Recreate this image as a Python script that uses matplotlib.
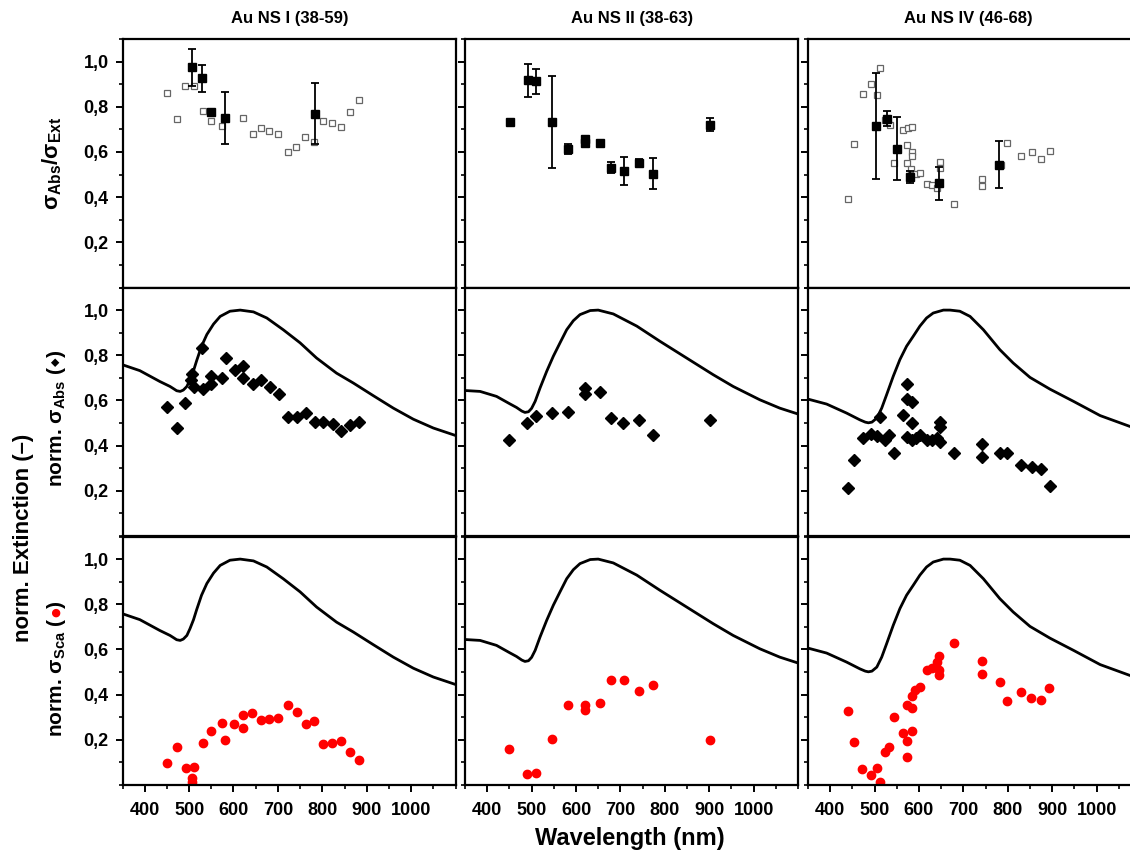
import numpy as np
import matplotlib
matplotlib.use('Agg')
import matplotlib.pyplot as plt
from matplotlib.ticker import MultipleLocator, FixedLocator, FuncFormatter

plt.rcParams['font.family'] = ['Liberation Sans', 'DejaVu Sans']
plt.rcParams['font.weight'] = 'bold'
plt.rcParams['mathtext.fontset'] = 'custom'
plt.rcParams['mathtext.rm'] = 'Liberation Sans:bold'
plt.rcParams['mathtext.it'] = 'Liberation Sans:italic:bold'
plt.rcParams['mathtext.bf'] = 'Liberation Sans:bold'

titles = ['Au NS I (38-59)', 'Au NS II (38-63)', 'Au NS IV (46-68)']

# --- row 1: sigma_Abs / sigma_Ext ---
# open squares (single particles)
ratio_open_wl = [
    [450, 472, 491, 511, 531, 549, 573, 621, 643, 661, 681, 700, 722, 741, 762, 781, 801, 821, 841, 862, 882],
    [],
    [439, 454, 473, 493, 505, 513, 523, 535, 543, 564, 575, 585, 574, 584, 584, 573, 583, 593, 603,
     618, 629, 640, 647, 647, 678, 743, 743, 785, 799, 829, 855, 874, 894],
]
ratio_open_val = [
    [0.862, 0.746, 0.891, 0.891, 0.782, 0.737, 0.715, 0.749, 0.678, 0.708, 0.693, 0.680, 0.600, 0.621,
     0.668, 0.644, 0.739, 0.730, 0.711, 0.775, 0.828],
    [],
    [0.390, 0.636, 0.857, 0.903, 0.851, 0.971, 0.741, 0.721, 0.551, 0.696, 0.705, 0.711, 0.631, 0.599,
     0.584, 0.553, 0.525, 0.504, 0.509, 0.457, 0.454, 0.442, 0.554, 0.528, 0.368, 0.479, 0.449, 0.544,
     0.640, 0.582, 0.602, 0.571, 0.604],
]
# filled squares (averages) with error bars
ratio_mean_wl = [
    [507, 529, 549, 581, 783],
    [451, 491, 510, 545, 583, 621, 621, 654, 679, 707, 742, 774, 902],
    [504, 528, 550, 580, 646, 780],
]
ratio_mean_val = [
    [0.974, 0.927, 0.776, 0.752, 0.769],
    [0.732, 0.917, 0.912, 0.732, 0.611, 0.658, 0.638, 0.640, 0.531, 0.517, 0.553, 0.504, 0.721],
    [0.715, 0.748, 0.615, 0.489, 0.461, 0.544],
]
ratio_mean_err = [
    [0.080, 0.060, 0.012, 0.115, 0.135],
    [0.0, 0.074, 0.054, 0.205, 0.022, 0.010, 0.010, 0.0, 0.025, 0.062, 0.015, 0.070, 0.030],
    [0.236, 0.034, 0.139, 0.026, 0.072, 0.105],
]

# --- normalised extinction spectra ---
ext_wl = [
    [350, 389, 434, 457, 465, 472, 480, 487, 495, 502, 510, 517, 528, 540, 555, 570, 592, 615, 645,
     675, 712, 750, 787, 832, 870, 915, 960, 1005, 1050, 1100],
    [350, 384, 421, 451, 466, 478, 485, 493, 500, 508, 519, 534, 549, 564, 579, 594, 609, 632, 650,
     684, 737, 789, 849, 909, 954, 1014, 1059, 1100],
    [348, 392, 437, 467, 479, 486, 494, 505, 516, 527, 542, 557, 572, 587, 602, 617, 632, 655, 670,
     692, 715, 745, 782, 812, 850, 895, 948, 1008, 1075, 1100],
]
ext_val = [
    [0.758, 0.732, 0.684, 0.662, 0.652, 0.643, 0.640, 0.646, 0.662, 0.692, 0.732, 0.776, 0.840, 0.892,
     0.938, 0.972, 0.995, 1.000, 0.992, 0.965, 0.913, 0.855, 0.788, 0.721, 0.677, 0.621, 0.566, 0.517,
     0.478, 0.445],
    [0.644, 0.640, 0.618, 0.585, 0.569, 0.553, 0.547, 0.550, 0.565, 0.596, 0.655, 0.729, 0.796, 0.855,
     0.913, 0.953, 0.980, 0.998, 1.000, 0.983, 0.929, 0.862, 0.788, 0.714, 0.662, 0.603, 0.566, 0.540],
    [0.607, 0.584, 0.544, 0.514, 0.504, 0.501, 0.504, 0.522, 0.566, 0.625, 0.707, 0.781, 0.840, 0.884,
     0.929, 0.965, 0.987, 1.000, 1.000, 0.995, 0.972, 0.913, 0.825, 0.766, 0.702, 0.650, 0.596, 0.533,
     0.485, 0.476],
]

# --- row 2: normalised sigma_Abs ---
abs_wl = [
    [450, 472, 491, 507, 504, 511, 529, 531, 549, 550, 574, 582, 603, 622, 622, 643, 662, 682, 703,
     722, 742, 763, 783, 802, 823, 842, 863, 883],
    [450, 490, 510, 546, 582, 621, 621, 654, 679, 706, 742, 773, 902],
    [441, 454, 473, 493, 505, 513, 524, 533, 544, 564, 573, 574, 585, 584, 573, 584, 593, 603, 618,
     629, 640, 647, 647, 647, 678, 743, 743, 782, 799, 829, 855, 874, 894],
]
abs_val = [
    [0.571, 0.480, 0.589, 0.718, 0.689, 0.660, 0.832, 0.652, 0.710, 0.673, 0.698, 0.789, 0.736, 0.754,
     0.698, 0.673, 0.689, 0.658, 0.629, 0.528, 0.525, 0.545, 0.506, 0.506, 0.496, 0.466, 0.493, 0.506],
    [0.427, 0.502, 0.532, 0.544, 0.550, 0.653, 0.628, 0.639, 0.523, 0.498, 0.513, 0.446, 0.513],
    [0.214, 0.337, 0.435, 0.453, 0.443, 0.526, 0.426, 0.446, 0.369, 0.534, 0.674, 0.605, 0.593, 0.500,
     0.439, 0.426, 0.432, 0.448, 0.426, 0.427, 0.432, 0.506, 0.482, 0.416, 0.366, 0.408, 0.349, 0.366,
     0.368, 0.315, 0.307, 0.295, 0.220],
]

# --- row 3: normalised sigma_Sca ---
sca_wl = [
    [450, 472, 492, 512, 506, 506, 531, 550, 574, 580, 601, 621, 621, 642, 662, 681, 701, 723, 742,
     763, 781, 801, 822, 842, 863, 883],
    [450, 490, 509, 545, 582, 621, 621, 654, 679, 707, 741, 773, 902],
    [441, 454, 472, 493, 505, 513, 523, 533, 543, 563, 573, 573, 573, 584, 584, 584, 592, 602, 618,
     629, 640, 646, 646, 646, 678, 742, 742, 782, 799, 829, 853, 874, 893],
]
sca_val = [
    [0.096, 0.167, 0.075, 0.081, 0.030, 0.015, 0.186, 0.239, 0.276, 0.198, 0.269, 0.309, 0.253, 0.319,
     0.287, 0.293, 0.296, 0.355, 0.325, 0.272, 0.282, 0.183, 0.188, 0.194, 0.148, 0.109],
    [0.160, 0.047, 0.053, 0.203, 0.353, 0.356, 0.334, 0.361, 0.467, 0.467, 0.415, 0.442, 0.201],
    [0.328, 0.189, 0.070, 0.046, 0.074, 0.012, 0.146, 0.168, 0.300, 0.229, 0.194, 0.123, 0.355, 0.395,
     0.340, 0.241, 0.421, 0.436, 0.510, 0.520, 0.544, 0.573, 0.510, 0.486, 0.630, 0.550, 0.491, 0.454,
     0.372, 0.411, 0.386, 0.378, 0.431],
]

W, H = 1130, 856
fig = plt.figure(figsize=(W / 100, H / 100), dpi=100)

lefts = [122.5, 465, 808]
bottoms = [287.5, 536, 785]
aw, ah = 333, 248.5

comma = FuncFormatter(lambda v, p: f'{v:.1f}'.replace('.', ','))

axes = [[None] * 3 for _ in range(3)]
for r in range(3):
    for c in range(3):
        ax = fig.add_axes([lefts[c] / W, 1 - bottoms[r] / H, aw / W, ah / H])
        axes[r][c] = ax
        ax.set_xlim(350, 1100)
        ax.set_ylim(0, 1.1)
        for s in ax.spines.values():
            s.set_linewidth(1.6)
        ax.yaxis.set_major_locator(FixedLocator([0.2, 0.4, 0.6, 0.8, 1.0]))
        ax.yaxis.set_minor_locator(MultipleLocator(0.1))
        ax.xaxis.set_major_locator(FixedLocator([400, 500, 600, 700, 800, 900, 1000]))
        ax.xaxis.set_minor_locator(MultipleLocator(50))
        ax.yaxis.set_major_formatter(comma)
        ax.tick_params(which='major', direction='out', length=5, width=1.4, labelsize=13, pad=5)
        ax.tick_params(which='minor', direction='out', length=3, width=1.2)
        if r < 2:
            ax.tick_params(axis='x', which='both', bottom=False, labelbottom=False)
        else:
            ax.tick_params(axis='x', pad=7)
        if c > 0:
            ax.tick_params(axis='y', which='both', labelleft=False)
        for lab in ax.get_xticklabels() + ax.get_yticklabels():
            lab.set_fontweight('bold')

for c in range(3):
    ax = axes[0][c]
    ax.plot(ratio_open_wl[c], ratio_open_val[c], 's', ms=4.5, mfc='white', mec='#666666', mew=0.9, zorder=2)
    ax.errorbar(ratio_mean_wl[c], ratio_mean_val[c], yerr=ratio_mean_err[c], fmt='s', ms=5.5,
                color='black', ecolor='black', elinewidth=1.3, capsize=3, capthick=1.3, zorder=3)

    ax = axes[1][c]
    ax.plot(ext_wl[c], ext_val[c], '-', color='black', lw=2, solid_joinstyle='round')
    ax.plot(abs_wl[c], abs_val[c], 'D', ms=6, color='black')

    ax = axes[2][c]
    ax.plot(ext_wl[c], ext_val[c], '-', color='black', lw=2, solid_joinstyle='round')
    ax.plot(sca_wl[c], sca_val[c], 'o', ms=6, color='red', mec='red')

for x, t in zip([290, 632, 968], titles):
    fig.text(x / W, 1 - 18 / H, t, ha='center', va='center', fontsize=12, fontweight='bold')

fig.text(630 / W, 1 - 838 / H, 'Wavelength (nm)', ha='center', va='center', fontsize=17, fontweight='bold')

ax_bot = axes[2][0]


def chain_label(x_px, y_px, parts):
    # rotated label built from pieces, each placed after the previous one
    txt, kw = parts[0]
    prev = fig.text(x_px / W, 1 - y_px / H, txt, rotation=90, ha='center', va='bottom', **kw)
    for txt, kw in parts[1:]:
        prev = ax_bot.annotate(txt, xy=(0.5, 1), xycoords=prev, rotation=90, ha='center',
                               va='bottom', annotation_clip=False, **kw)


fig.text(52 / W, 1 - 163 / H, r'σ$_{\mathrm{Abs}}$/σ$_{\mathrm{Ext}}$', rotation=90,
         ha='center', va='center', fontsize=16, fontweight='bold')
chain_label(56, 487, [
    (r'norm. σ$_{\mathrm{Abs}}$ (', dict(fontsize=15, fontweight='bold')),
    ('◆', dict(fontsize=8, family='DejaVu Sans', color='black')),
    (')', dict(fontsize=15, fontweight='bold')),
])
chain_label(56, 737, [
    (r'norm. σ$_{\mathrm{Sca}}$ (', dict(fontsize=15, fontweight='bold')),
    ('●', dict(fontsize=8, family='DejaVu Sans', color='red')),
    (')', dict(fontsize=15, fontweight='bold')),
])
fig.text(24 / W, 1 - 538 / H, 'norm. Extinction (–)', rotation=90,
         ha='center', va='center', fontsize=16, fontweight='bold')

fig.savefig('out.png', dpi=100)
